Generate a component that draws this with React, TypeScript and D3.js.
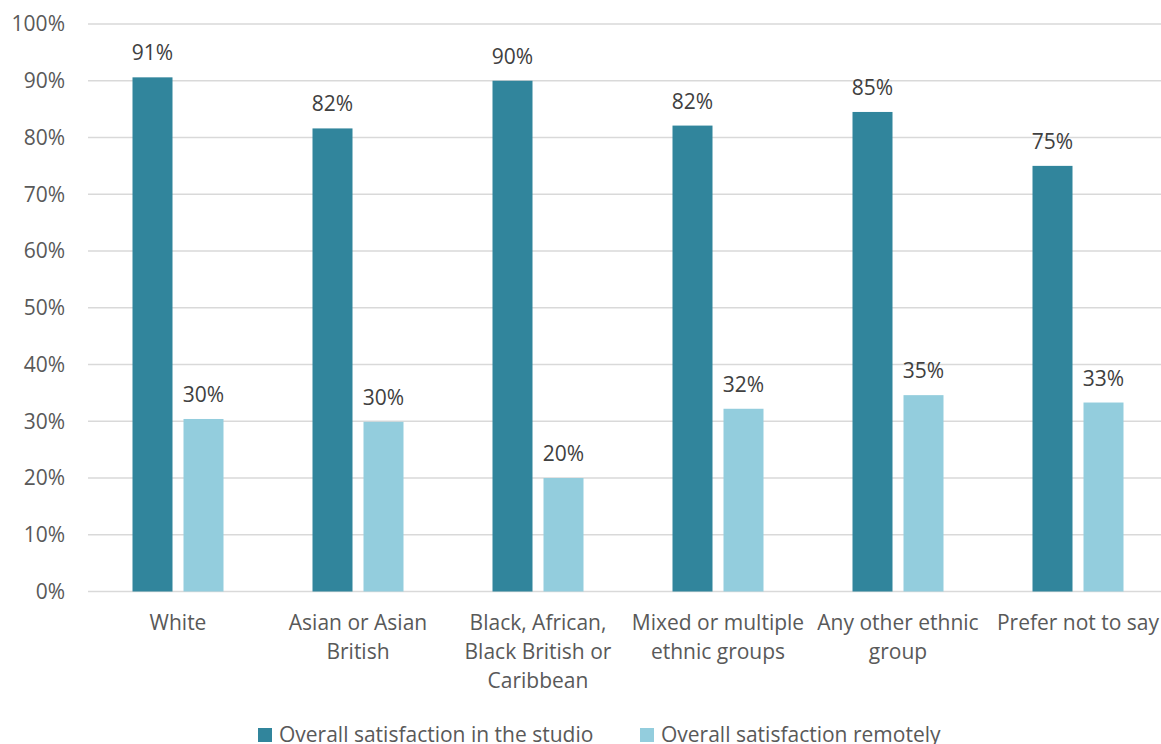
import React from "react";
import * as d3 from "d3";

// Ethnic groups along the x axis
const categories = [
  "White",
  "Asian or Asian British",
  "Black, African, Black British or Caribbean",
  "Mixed or multiple ethnic groups",
  "Any other ethnic group",
  "Prefer not to say",
];

// How each category label wraps under the axis
const categoryLines = [
  ["White"],
  ["Asian or Asian", "British"],
  ["Black, African,", "Black British or", "Caribbean"],
  ["Mixed or multiple", "ethnic groups"],
  ["Any other ethnic", "group"],
  ["Prefer not to say"],
];

const seriesNames = [
  "Overall satisfaction in the studio",
  "Overall satisfaction remotely",
];

const studioValues = [0.906, 0.816, 0.9, 0.821, 0.845, 0.75];
const remoteValues = [0.304, 0.299, 0.2, 0.322, 0.346, 0.333];

const yTicks = [0, 0.1, 0.2, 0.3, 0.4, 0.5, 0.6, 0.7, 0.8, 0.9, 1.0];

const colors = ["#31859C", "#93CDDD"];

const W = 1161;
const H = 744;
const FONT = "'Open Sans', sans-serif";
const FS = 21;

export default function App() {
  const x0 = d3.scaleBand<string>().domain(categories).range([88, 1168]);
  const x1 = d3
    .scaleBand<string>()
    .domain(seriesNames)
    .range([(x0.bandwidth() - 91) / 2, (x0.bandwidth() + 91) / 2])
    .paddingInner(11 / 51);
  const y = d3.scaleLinear().domain([0, 1]).range([591.5, 24]);
  const pct = d3.format(".0%");
  const seriesValues = [studioValues, remoteValues];

  return (
    <svg
      width={W}
      height={H}
      style={{ position: "absolute", left: 0, top: 0, background: "#fff" }}
      fontFamily={FONT}
    >
      <rect width={W} height={H} fill="#fff" />
      {/* gridlines and y tick labels */}
      {yTicks.map((t) => (
        <g key={t}>
          <line
            x1={88}
            x2={W}
            y1={y(t)}
            y2={y(t)}
            stroke="#D9D9D9"
            strokeWidth={1.5}
          />
          <text
            x={65}
            y={y(t)}
            dy="0.35em"
            textAnchor="end"
            fontSize={FS}
            fill="#595959"
          >
            {pct(t)}
          </text>
        </g>
      ))}

      {/* bars with value labels */}
      {categories.map((c, i) => (
        <g key={c} transform={`translate(${x0(c)},0)`}>
          {seriesNames.map((s, j) => {
            const v = seriesValues[j][i];
            const bx = x1(s) as number;
            return (
              <g key={s}>
                <rect
                  x={bx}
                  y={y(v)}
                  width={x1.bandwidth()}
                  height={y(0) - y(v)}
                  fill={colors[j]}
                />
                <text
                  x={bx + x1.bandwidth() / 2}
                  y={y(v) - 17}
                  textAnchor="middle"
                  fontSize={FS}
                  fill="#404040"
                >
                  {pct(v)}
                </text>
              </g>
            );
          })}
        </g>
      ))}

      {/* category labels */}
      {categories.map((c, i) => (
        <text
          key={c}
          x={(x0(c) as number) + x0.bandwidth() / 2}
          y={630}
          textAnchor="middle"
          fontSize={FS}
          fill="#595959"
        >
          {categoryLines[i].map((line, k) => (
            <tspan
              key={k}
              x={(x0(c) as number) + x0.bandwidth() / 2}
              dy={k === 0 ? 0 : 29}
            >
              {line}
            </tspan>
          ))}
        </text>
      ))}

      {/* legend */}
      {seriesNames.map((s, j) => {
        const lx = [258, 640][j];
        return (
          <g key={s}>
            <rect x={lx} y={728} width={14} height={14} fill={colors[j]} />
            <text x={lx + 21} y={742} fontSize={FS} fill="#595959">
              {s}
            </text>
          </g>
        );
      })}
    </svg>
  );
}
